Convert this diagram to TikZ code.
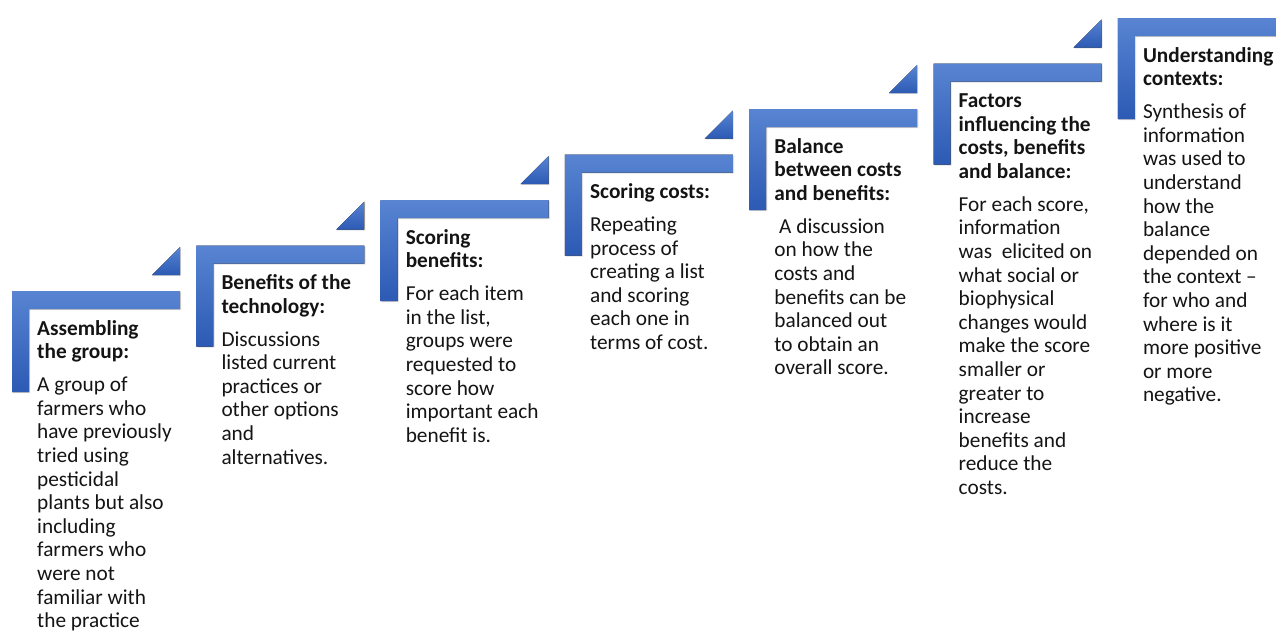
\documentclass[tikz,border=0pt]{standalone}
\usepackage{fontspec}
\setmainfont{Carlito}
\usetikzlibrary{shadows}
\definecolor{barlight}{RGB}{88,132,210}
\definecolor{bardark}{RGB}{44,90,180}
\definecolor{txt}{RGB}{20,20,20}
\tikzset{
  barshade/.style={top color=barlight, bottom color=bardark, draw=none,
    drop shadow={opacity=0.25, shadow xshift=1.2pt, shadow yshift=-1.2pt}},
  trishade/.style={top color=barlight, bottom color=bardark, draw=none,
    drop shadow={opacity=0.2, shadow xshift=1pt, shadow yshift=-1pt}},
  titletext/.style={font=\fontsize{21.3}{23.6}\selectfont\bfseries, text=txt, align=left, inner sep=0pt, anchor=base west},
  bodytext/.style={font=\fontsize{21.3}{23.6}\selectfont, text=txt, align=left, inner sep=0pt, anchor=base west}
}
\newcommand\stairbar[2]{%
  \fill[barshade] (#1,#2) -- ++(168,0) -- ++(0,18) -- ++(-151,0) -- ++(0,83) -- ++(-17,0) -- cycle;}
\newcommand\stairtri[2]{%
  \fill[trishade] ({#1+168},{#2-44}) -- ({#1+168},{#2-16}) -- ({#1+140},{#2-16}) -- cycle;}
\begin{document}
\begin{tikzpicture}[x=1pt,y=-1pt]
\useasboundingbox (0,0) rectangle (1276,630);
% steps
\stairbar{12}{291}\stairtri{12}{291}
\stairbar{196.3}{245.5}\stairtri{196.3}{245.5}
\stairbar{380.6}{200}\stairtri{380.6}{200}
\stairbar{564.9}{154.5}\stairtri{564.9}{154.5}
\stairbar{749.2}{109}\stairtri{749.2}{109}
\stairbar{933.5}{63.5}\stairtri{933.5}{63.5}
\stairbar{1117.8}{18}
% texts (anchored at the baseline of their last line)
\node[titletext] (t1) at (37,358.6) {Assembling\\the group:};
\node[bodytext] (b1) at (37,627.6) {A group of\\farmers who\\have previously\\tried using\\pesticidal\\plants but also\\including\\farmers who\\were not\\familiar with\\the practice};
\node[titletext] (t2) at (221.3,313.1) {Benefits of the\\technology:};
\node[bodytext] (b2) at (221.3,464) {Discussions\\listed current\\practices or\\other options\\and\\alternatives.};
\node[titletext] (t3) at (405.6,267.6) {Scoring\\benefits:};
\node[bodytext] (b3) at (405.6,442.2) {For each item\\in the list,\\groups were\\requested to\\score how\\important each\\benefit is.};
\node[titletext] (t4) at (589.9,198.5) {Scoring costs:};
\node[bodytext] (b4) at (589.9,349.5) {Repeating\\process of\\creating a list\\and scoring\\each one in\\terms of cost.};
\node[titletext] (t5) at (774.2,200.2) {Balance\\between costs\\and benefits:};
\node[bodytext] (b5) at (774.2,374.8) {\ A discussion\\on how the\\costs and\\benefits can be\\balanced out\\to obtain an\\overall score.};
\node[titletext] (t6) at (958.5,178.3) {Factors\\influencing the\\costs, benefits\\and balance:};
\node[bodytext] (b6) at (958.5,494.5) {For each score,\\information\\was~ elicited on\\what social or\\biophysical\\changes would\\make the score\\smaller or\\greater to\\increase\\benefits and\\reduce the\\costs.};
\node[titletext] (t7) at (1142.8,85.6) {Understanding\\contexts:};
\node[bodytext] (b7) at (1142.8,401.8) {Synthesis of\\information\\was used to\\understand\\how the\\balance\\depended on\\the context --\\for who and\\where is it\\more positive\\or more\\negative.};
\end{tikzpicture}
\end{document}
